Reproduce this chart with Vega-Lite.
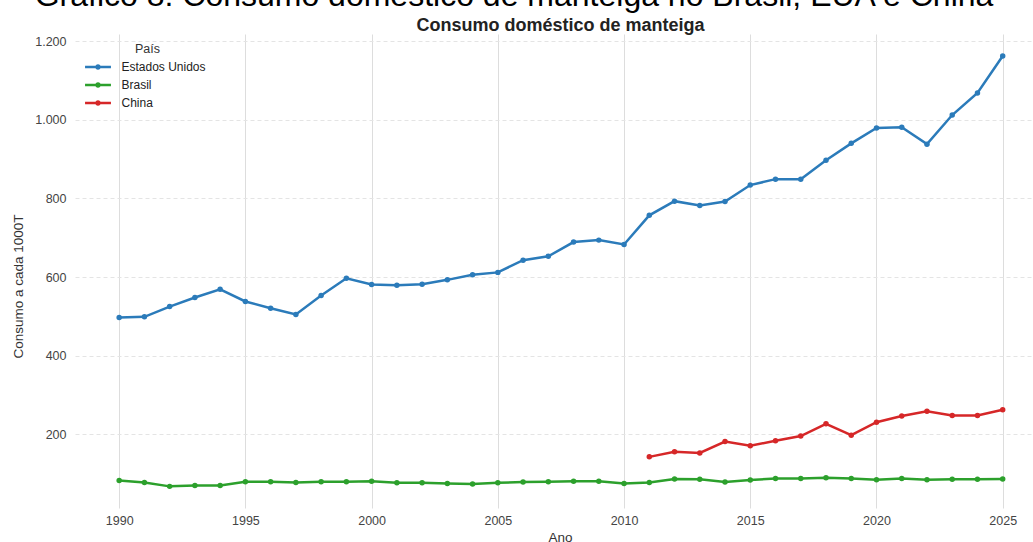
{
  "$schema": "https://vega.github.io/schema/vega-lite/v6.json",
  "width": 958,
  "height": 474,
  "autosize": {"type": "none"},
  "padding": {"left": 75, "top": 34, "right": 0, "bottom": 34},
  "background": "white",
  "config": {"view": {"stroke": null}, "font": "Liberation Sans"},
  "title": {
    "text": "Gráfico 8: Consumo doméstico de manteiga no Brasil, EUA e China",
    "fontSize": 32,
    "fontWeight": "normal",
    "color": "#000000",
    "anchor": "middle",
    "baseline": "alphabetic",
    "offset": -22,
    "dx": -40
  },
  "data": {
    "values": [
      {"Ano": 1990, "Pais": "Estados Unidos", "valor": 497},
      {"Ano": 1991, "Pais": "Estados Unidos", "valor": 499},
      {"Ano": 1992, "Pais": "Estados Unidos", "valor": 525},
      {"Ano": 1993, "Pais": "Estados Unidos", "valor": 548},
      {"Ano": 1994, "Pais": "Estados Unidos", "valor": 569},
      {"Ano": 1995, "Pais": "Estados Unidos", "valor": 538},
      {"Ano": 1996, "Pais": "Estados Unidos", "valor": 521},
      {"Ano": 1997, "Pais": "Estados Unidos", "valor": 505},
      {"Ano": 1998, "Pais": "Estados Unidos", "valor": 553},
      {"Ano": 1999, "Pais": "Estados Unidos", "valor": 597},
      {"Ano": 2000, "Pais": "Estados Unidos", "valor": 581},
      {"Ano": 2001, "Pais": "Estados Unidos", "valor": 579},
      {"Ano": 2002, "Pais": "Estados Unidos", "valor": 582},
      {"Ano": 2003, "Pais": "Estados Unidos", "valor": 593},
      {"Ano": 2004, "Pais": "Estados Unidos", "valor": 606},
      {"Ano": 2005, "Pais": "Estados Unidos", "valor": 612},
      {"Ano": 2006, "Pais": "Estados Unidos", "valor": 643},
      {"Ano": 2007, "Pais": "Estados Unidos", "valor": 653},
      {"Ano": 2008, "Pais": "Estados Unidos", "valor": 689},
      {"Ano": 2009, "Pais": "Estados Unidos", "valor": 694},
      {"Ano": 2010, "Pais": "Estados Unidos", "valor": 683},
      {"Ano": 2011, "Pais": "Estados Unidos", "valor": 757},
      {"Ano": 2012, "Pais": "Estados Unidos", "valor": 793},
      {"Ano": 2013, "Pais": "Estados Unidos", "valor": 782},
      {"Ano": 2014, "Pais": "Estados Unidos", "valor": 792},
      {"Ano": 2015, "Pais": "Estados Unidos", "valor": 834},
      {"Ano": 2016, "Pais": "Estados Unidos", "valor": 849},
      {"Ano": 2017, "Pais": "Estados Unidos", "valor": 849},
      {"Ano": 2018, "Pais": "Estados Unidos", "valor": 897},
      {"Ano": 2019, "Pais": "Estados Unidos", "valor": 940},
      {"Ano": 2020, "Pais": "Estados Unidos", "valor": 979},
      {"Ano": 2021, "Pais": "Estados Unidos", "valor": 981},
      {"Ano": 2022, "Pais": "Estados Unidos", "valor": 938},
      {"Ano": 2023, "Pais": "Estados Unidos", "valor": 1012},
      {"Ano": 2024, "Pais": "Estados Unidos", "valor": 1068},
      {"Ano": 2025, "Pais": "Estados Unidos", "valor": 1162},
      {"Ano": 1990, "Pais": "Brasil", "valor": 83},
      {"Ano": 1991, "Pais": "Brasil", "valor": 78},
      {"Ano": 1992, "Pais": "Brasil", "valor": 68},
      {"Ano": 1993, "Pais": "Brasil", "valor": 70},
      {"Ano": 1994, "Pais": "Brasil", "valor": 70},
      {"Ano": 1995, "Pais": "Brasil", "valor": 80},
      {"Ano": 1996, "Pais": "Brasil", "valor": 80},
      {"Ano": 1997, "Pais": "Brasil", "valor": 78},
      {"Ano": 1998, "Pais": "Brasil", "valor": 80},
      {"Ano": 1999, "Pais": "Brasil", "valor": 80},
      {"Ano": 2000, "Pais": "Brasil", "valor": 81},
      {"Ano": 2001, "Pais": "Brasil", "valor": 77},
      {"Ano": 2002, "Pais": "Brasil", "valor": 77},
      {"Ano": 2003, "Pais": "Brasil", "valor": 75},
      {"Ano": 2004, "Pais": "Brasil", "valor": 74},
      {"Ano": 2005, "Pais": "Brasil", "valor": 77},
      {"Ano": 2006, "Pais": "Brasil", "valor": 79},
      {"Ano": 2007, "Pais": "Brasil", "valor": 80},
      {"Ano": 2008, "Pais": "Brasil", "valor": 81},
      {"Ano": 2009, "Pais": "Brasil", "valor": 81},
      {"Ano": 2010, "Pais": "Brasil", "valor": 75},
      {"Ano": 2011, "Pais": "Brasil", "valor": 78},
      {"Ano": 2012, "Pais": "Brasil", "valor": 87},
      {"Ano": 2013, "Pais": "Brasil", "valor": 86},
      {"Ano": 2014, "Pais": "Brasil", "valor": 79},
      {"Ano": 2015, "Pais": "Brasil", "valor": 84},
      {"Ano": 2016, "Pais": "Brasil", "valor": 88},
      {"Ano": 2017, "Pais": "Brasil", "valor": 88},
      {"Ano": 2018, "Pais": "Brasil", "valor": 90},
      {"Ano": 2019, "Pais": "Brasil", "valor": 88},
      {"Ano": 2020, "Pais": "Brasil", "valor": 85},
      {"Ano": 2021, "Pais": "Brasil", "valor": 88},
      {"Ano": 2022, "Pais": "Brasil", "valor": 85},
      {"Ano": 2023, "Pais": "Brasil", "valor": 86},
      {"Ano": 2024, "Pais": "Brasil", "valor": 86},
      {"Ano": 2025, "Pais": "Brasil", "valor": 87},
      {"Ano": 2011, "Pais": "China", "valor": 143},
      {"Ano": 2012, "Pais": "China", "valor": 156},
      {"Ano": 2013, "Pais": "China", "valor": 153},
      {"Ano": 2014, "Pais": "China", "valor": 182},
      {"Ano": 2015, "Pais": "China", "valor": 171},
      {"Ano": 2016, "Pais": "China", "valor": 184},
      {"Ano": 2017, "Pais": "China", "valor": 196},
      {"Ano": 2018, "Pais": "China", "valor": 227},
      {"Ano": 2019, "Pais": "China", "valor": 198},
      {"Ano": 2020, "Pais": "China", "valor": 231},
      {"Ano": 2021, "Pais": "China", "valor": 247},
      {"Ano": 2022, "Pais": "China", "valor": 259},
      {"Ano": 2023, "Pais": "China", "valor": 248},
      {"Ano": 2024, "Pais": "China", "valor": 248},
      {"Ano": 2025, "Pais": "China", "valor": 263}
    ]
  },
  "resolve": {"axis": {"x": "independent"}},
  "layer": [
    {
      "mark": {"type": "line", "strokeWidth": 2.5},
      "encoding": {
        "x": {
          "field": "Ano", "type": "quantitative",
          "scale": {"domain": [1988.25, 2026.2], "nice": false, "zero": false},
          "axis": {
            "values": [1990, 1995, 2000, 2005, 2010, 2015, 2020, 2025],
            "format": "d",
            "labelFontSize": 12.5, "labelColor": "#444444", "labelPadding": 6,
            "ticks": false, "domain": false,
            "grid": true, "gridColor": "#dddddd", "gridWidth": 1,
            "title": "Ano", "titleFontSize": 13.5, "titleFontWeight": "normal", "titleColor": "#333333",
            "titleX": 485, "titleY": 22, "titleBaseline": "top", "titleAlign": "center"
          }
        },
        "y": {
          "field": "valor", "type": "quantitative",
          "scale": {"domain": [13, 1218], "nice": false, "zero": false},
          "axis": {
            "values": [200, 400, 600, 800, 1000, 1200],
            "labelExpr": "replace(format(datum.value, ','), ',', '.')",
            "labelFontSize": 12.5, "labelColor": "#444444", "labelPadding": 9,
            "ticks": false, "domain": false,
            "grid": true, "gridColor": "#e4e4e4", "gridDash": [4, 3], "gridWidth": 1,
            "title": "Consumo a cada 1000T", "titleFontSize": 13.5, "titleFontWeight": "normal", "titleColor": "#333333",
            "titleX": -57, "titleY": 252, "titleBaseline": "middle", "titleAlign": "center", "titleAngle": -90
          }
        },
        "color": {
          "field": "Pais", "type": "nominal",
          "scale": {"domain": ["Estados Unidos", "Brasil", "China"], "range": ["#2b7bba", "#2ca02c", "#d62728"]},
          "legend": {
            "orient": "none", "legendX": 14.5, "legendY": 9,
            "title": "País", "titleFontSize": 12.5, "titleFontWeight": "normal", "titleColor": "#333333", "titleAnchor": "middle", "titlePadding": 3,
            "labelFontSize": 12, "labelColor": "#222222", "labelOffset": 15,
            "symbolType": "M-1.85,0H1.85M-0.22,0A0.22,0.22,0,1,0,0.22,0A0.22,0.22,0,1,0,-0.22,0",
            "symbolSize": 196, "symbolStrokeWidth": 2.5, "rowPadding": 2
          }
        }
      }
    },
    {
      "mark": {"type": "point", "filled": true, "size": 30, "opacity": 1},
      "encoding": {
        "x": {
          "field": "Ano", "type": "quantitative",
          "axis": {
            "orient": "top", "labels": false, "ticks": false, "grid": false, "domain": false,
            "title": "Consumo doméstico de manteiga", "titleFontSize": 18, "titleFontWeight": "bold", "titleColor": "#222222",
            "titleX": 485, "titleY": -4, "titleBaseline": "alphabetic", "titleAlign": "center"
          }
        },
        "y": {"field": "valor", "type": "quantitative"},
        "color": {
          "field": "Pais", "type": "nominal",
          "legend": {
            "orient": "none", "legendX": 14.5, "legendY": 9,
            "title": "País", "titleFontSize": 12.5, "titleFontWeight": "normal", "titleColor": "#333333", "titleAnchor": "middle", "titlePadding": 3,
            "labelFontSize": 12, "labelColor": "#222222", "labelOffset": 15,
            "symbolType": "M-1.85,0H1.85M-0.22,0A0.22,0.22,0,1,0,0.22,0A0.22,0.22,0,1,0,-0.22,0",
            "symbolSize": 196, "symbolStrokeWidth": 2.5, "rowPadding": 2
          }
        }
      }
    }
  ]
}
